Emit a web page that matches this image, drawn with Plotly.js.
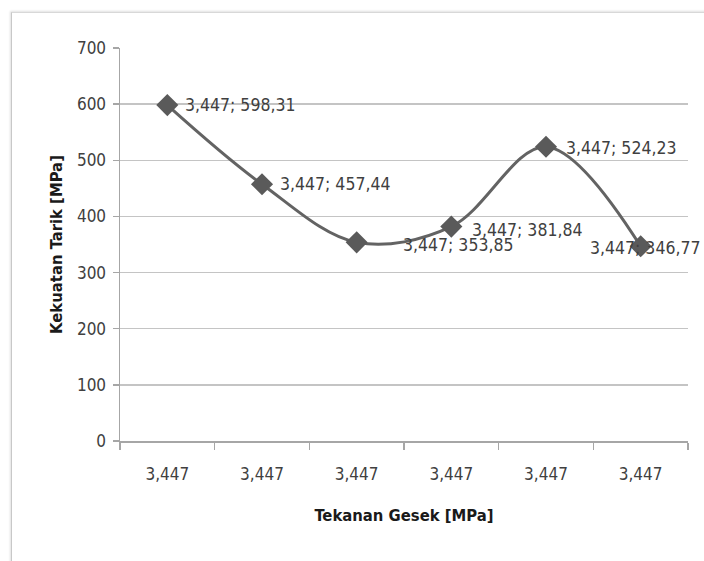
<!DOCTYPE html>
<html>
<head>
<meta charset="utf-8">
<script src="https://cdn.plot.ly/plotly-3.0.1.min.js"></script>
<style>
html,body{margin:0;padding:0;background:#fff;}
#wrap{position:relative;width:704px;height:561px;overflow:hidden;}
#frame{position:absolute;left:11px;top:12px;width:720px;height:580px;border-left:1.5px solid #c8c8c8;border-top:1.5px solid #d8d8d8;box-shadow:-1px -1px 2px rgba(0,0,0,0.12);}
#chart{position:absolute;left:0;top:0;width:704px;height:561px;}
</style>
</head>
<body>
<div id="wrap"><div id="frame"></div><div id="chart"></div></div>
<script>
const categories = ["3,447","3,447","3,447","3,447","3,447","3,447"];
const values = [598.31, 457.44, 353.85, 381.84, 524.23, 346.77];
const valueLabels = ["598,31","457,44","353,85","381,84","524,23","346,77"];
const yTicks = [0,100,200,300,400,500,600,700];

const FONT = '"DejaVu Sans Condensed", "Liberation Sans Narrow", "Liberation Sans", sans-serif';
const idx = categories.map((c,i)=>i);

const labelShiftX = [16, 16, 44, 19, 18, 4];
const labelShiftY = [0, 0, -3, -3, -1, -2];
const labelAnchor = ['left','left','left','left','left','center'];

const annotations = idx.map(i => ({
  x: i, y: values[i], xref:'x', yref:'y',
  text: categories[i] + '; ' + valueLabels[i],
  showarrow:false,
  xanchor: labelAnchor[i], yanchor:'middle',
  xshift: labelShiftX[i], yshift: labelShiftY[i],
  font:{family:FONT, size:17.5, color:'#404040'}
}));

const trace = {
  x: idx, y: values, type:'scatter', mode:'lines+markers',
  line:{shape:'spline', smoothing:1, color:'#636363', width:3},
  marker:{symbol:'diamond', size:17, color:'#5a5a5a'},
  hoverinfo:'skip'
};

const layout = {
  width:704, height:561,
  margin:{l:120, r:16, t:48, b:120},
  paper_bgcolor:'rgba(0,0,0,0)', plot_bgcolor:'rgba(0,0,0,0)',
  showlegend:false,
  font:{family:FONT, color:'#404040'},
  xaxis:{
    range:[-0.5, 5.5], tickmode:'array', tickvals:idx, ticktext:categories,
    ticks:'', showgrid:false, zeroline:false,
    showline:true, linecolor:'#a6a6a6', linewidth:1.5,
    tickfont:{family:FONT, size:17, color:'#404040'},
    ticklabelstandoff:17,
    minor:{tickmode:'linear', tick0:-0.5, dtick:1, ticks:'outside', ticklen:7, tickcolor:'#a6a6a6', tickwidth:1.5, showgrid:false},
    title:{text:'<b>Tekanan Gesek [MPa]</b>', font:{family:FONT, size:16.5, color:'#1a1a1a'}, standoff:26},
    fixedrange:true
  },
  yaxis:{
    range:[0,700], tickmode:'array', tickvals:yTicks, ticktext:yTicks.map(String),
    ticks:'outside', ticklen:6, tickcolor:'#a6a6a6', tickwidth:1.5,
    showgrid:true, gridcolor:'#c4c4c4', gridwidth:1.5, zeroline:false,
    showline:true, linecolor:'#a6a6a6', linewidth:1.5,
    tickfont:{family:FONT, size:17, color:'#404040'},
    ticklabelstandoff:3,
    title:{text:'<b>Kekuatan Tarik [MPa]</b>', font:{family:FONT, size:16.5, color:'#1a1a1a'}, standoff:10},
    fixedrange:true
  },
  annotations: annotations
};

Plotly.newPlot('chart', [trace], layout, {displayModeBar:false, staticPlot:true});
</script>
</body>
</html>
